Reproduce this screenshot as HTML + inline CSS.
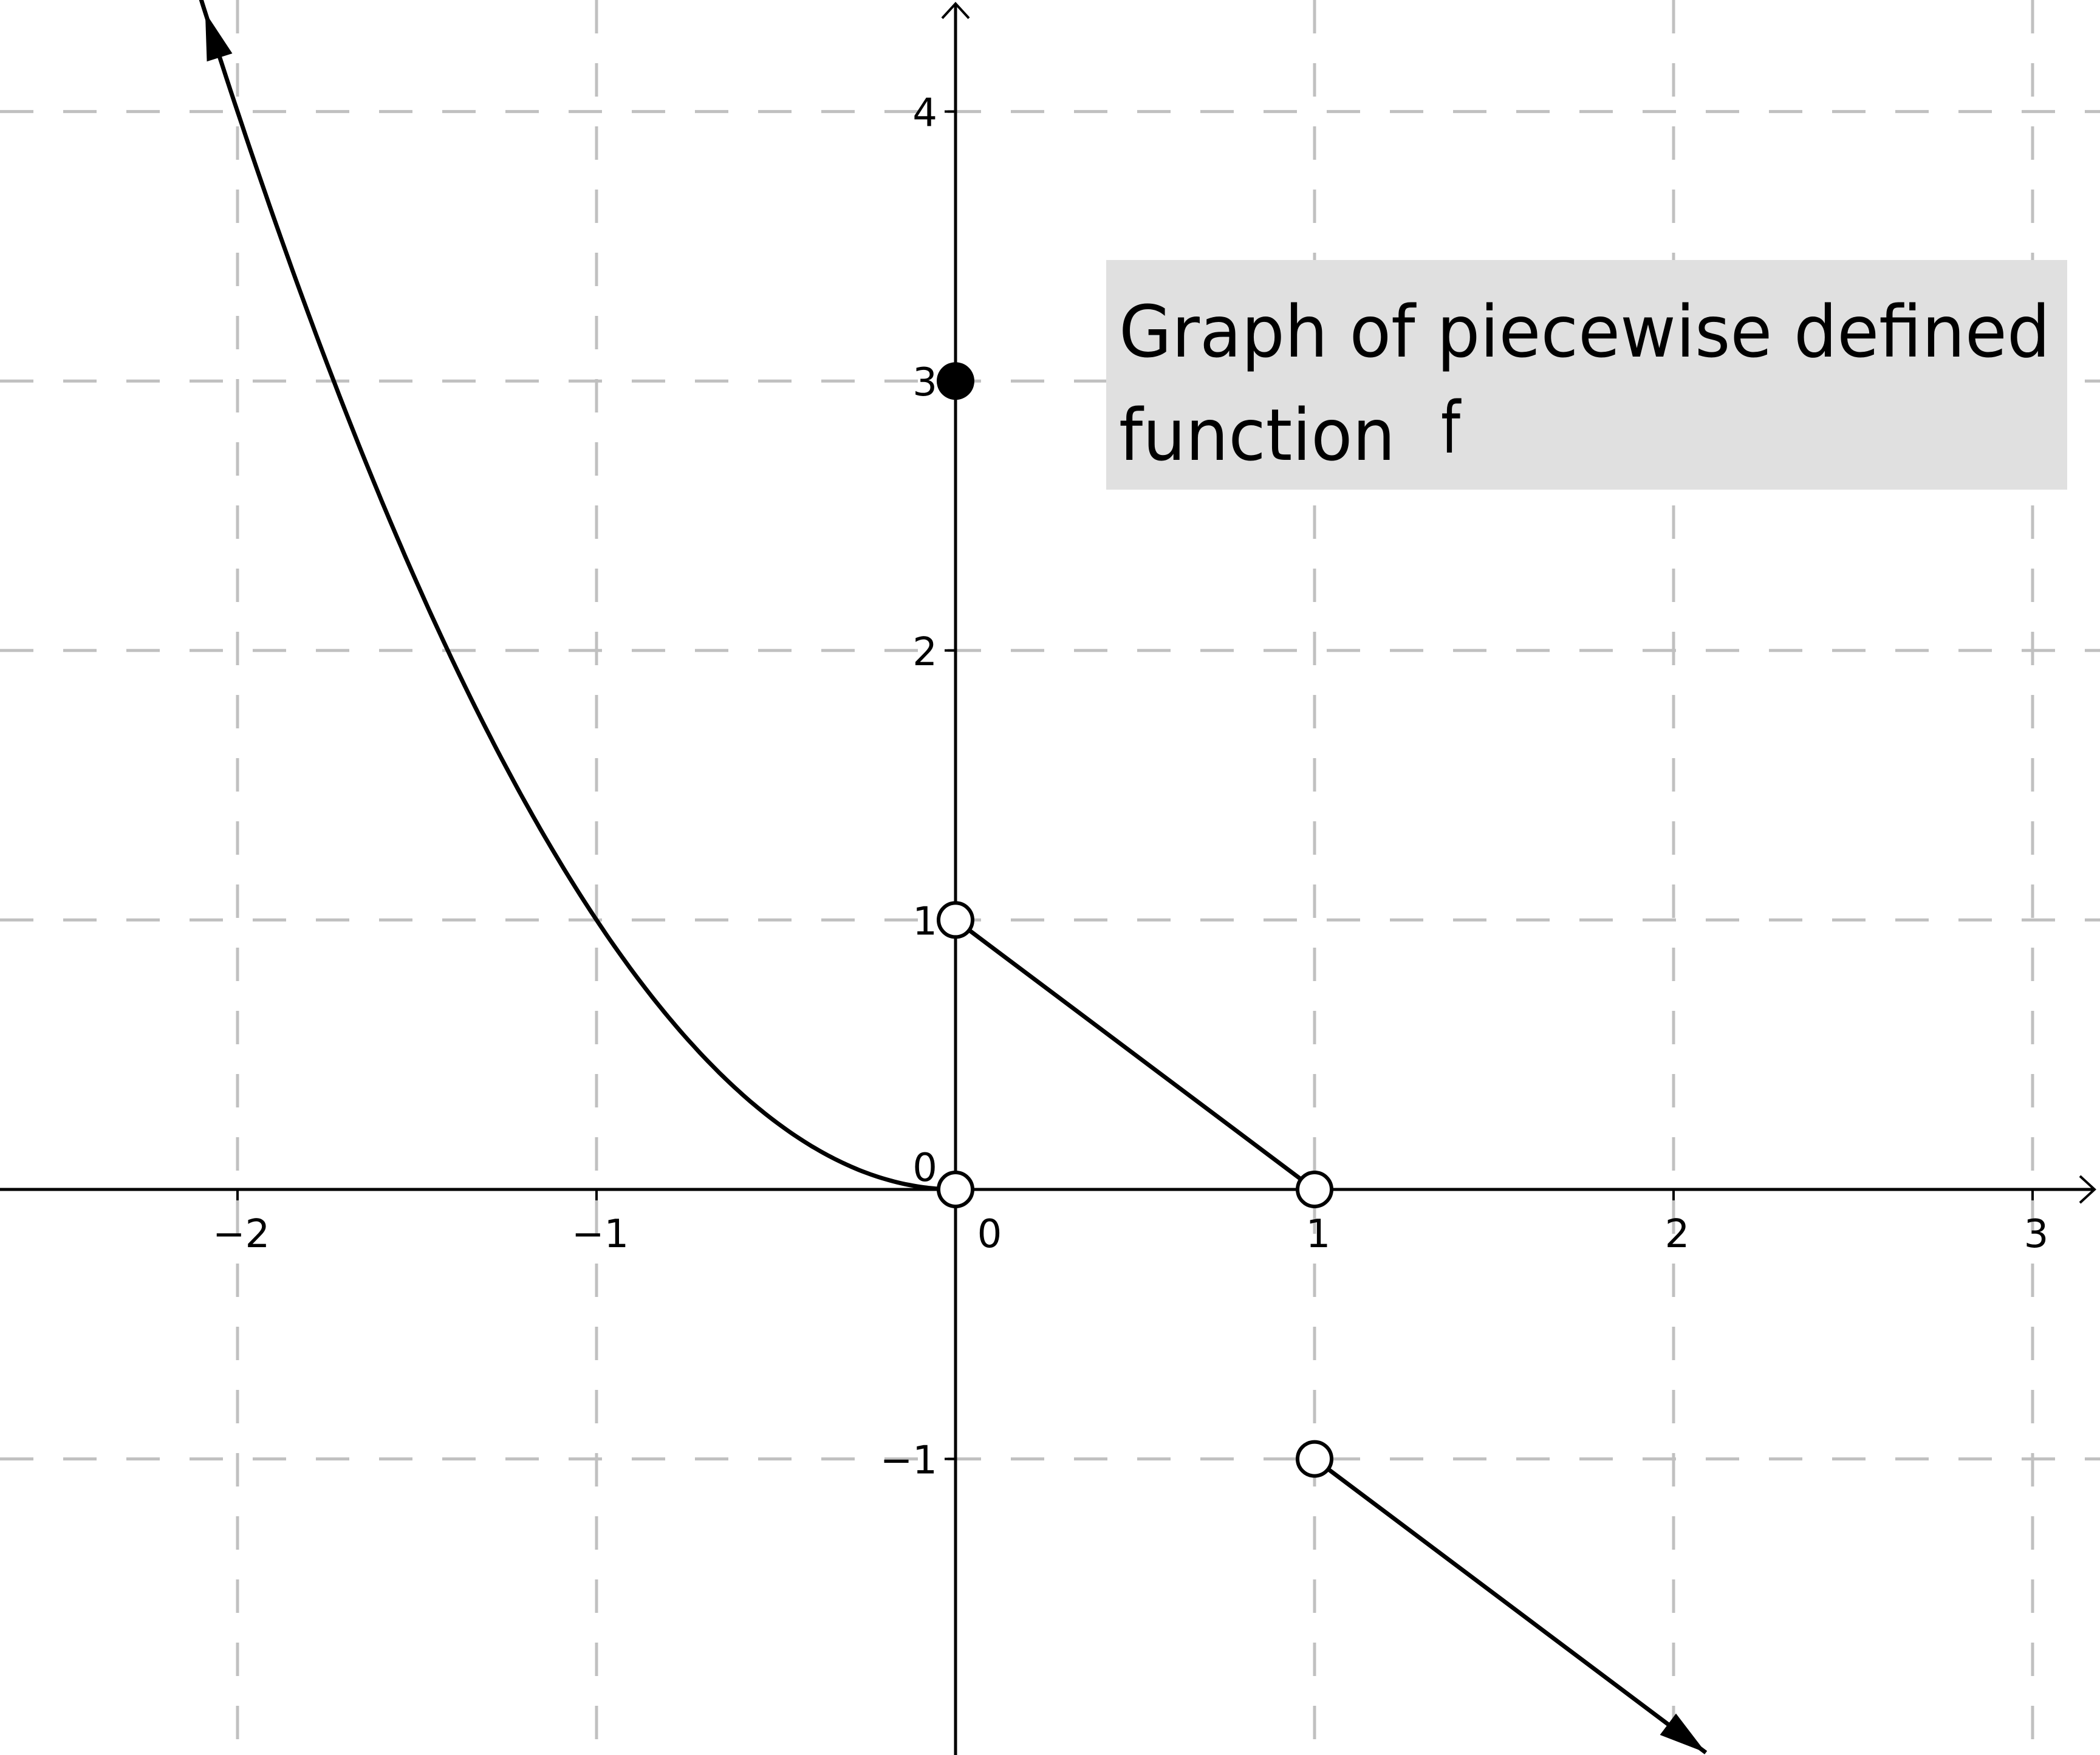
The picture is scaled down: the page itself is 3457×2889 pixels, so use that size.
<!DOCTYPE html>
<html><head><meta charset="utf-8"><style>
html,body{margin:0;padding:0;background:#fff}
svg{display:block}
</style></head><body>
<svg id="chart" width="3457" height="2889" viewBox="0 0 3457 2889" xmlns="http://www.w3.org/2000/svg" font-family="'DejaVu Sans','Liberation Sans',sans-serif">
<g id="grid"></g>
<g id="axes"></g>
<g id="series"></g>
<g id="points"></g>
<g>
<rect x="1821" y="428" width="1582" height="378" fill="#e0e0e0"/>
<text x="1842" y="587" font-size="118" textLength="1533" lengthAdjust="spacingAndGlyphs">Graph of piecewise defined</text>
<text x="1842" y="757" font-size="118" textLength="455" lengthAdjust="spacingAndGlyphs">function</text>
<text x="2372" y="745" font-size="118" textLength="32" lengthAdjust="spacingAndGlyphs">f</text>
</g>
</svg>
<script>
const xTicks = [-2, -1, 0, 1, 2, 3];
const yTicks = [-1, 0, 1, 2, 3, 4];
const xTickLabels = ["−2", "−1", "0", "1", "2", "3"];
const yTickLabels = ["−1", "0", "1", "2", "3", "4"];
const curveStart = -2.16;
const curveArrowX = -2.09;
const segA = [[0, 1], [1, 0]];
const segB = [[1, -1], [2.09, -2.09]];
const openPoints = [[0, 1], [0, 0], [1, 0], [1, -1]];
const filledPoints = [[0, 3]];

const NS = "http://www.w3.org/2000/svg";
const X0 = 1573, UX = 591, Y0 = 1958, UY = 443.6;
const sx = x => X0 + x * UX;
const sy = y => Y0 - y * UY;
function mk(tag, attrs, parent) {
  const e = document.createElementNS(NS, tag);
  for (const k in attrs) e.setAttribute(k, attrs[k]);
  parent.appendChild(e);
  return e;
}
const grid = document.getElementById('grid');
const axes = document.getElementById('axes');
const series = document.getElementById('series');
const pts = document.getElementById('points');
const dash = {stroke: '#c0c0c0', 'stroke-width': 5, 'stroke-dasharray': '55 49', fill: 'none'};

xTicks.forEach((t) => {
  if (t === 0) return;
  const l = mk('line', Object.assign({x1: sx(t), x2: sx(t), y1: 0, y2: 2889}, dash), grid);
  
  
});
yTicks.forEach((t) => {
  if (t === 0) return;
  const l = mk('line', Object.assign({x1: 0, x2: 3457, y1: sy(t), y2: sy(t)}, dash), grid);
  
  
});

let ax = mk('line', {x1: 0, x2: 3446, y1: Y0, y2: Y0, stroke: '#000', 'stroke-width': 5}, axes);


let ay = mk('line', {x1: X0, x2: X0, y1: 2889, y2: 8, stroke: '#000', 'stroke-width': 5}, axes);


let xa = mk('path', {d: `M3424 ${Y0-22} L3448 ${Y0} L3424 ${Y0+22}`, stroke: '#000', 'stroke-width': 4, fill: 'none'}, axes);


let ya = mk('path', {d: `M${X0-22} 30 L${X0} 6 L${X0+22} 30`, stroke: '#000', 'stroke-width': 4, fill: 'none'}, axes);



xTicks.forEach((t, i) => {
  if (t !== 0) {
    const tk = mk('line', {x1: sx(t), x2: sx(t), y1: Y0, y2: Y0 + 18, stroke: '#000', 'stroke-width': 4}, axes);
    
    
  }
  const tx = mk('text', {x: t === 0 ? sx(t) + 56 : sx(t) + 6, y: 2053, 'font-size': 64, 'text-anchor': 'middle'}, axes);
  tx.textContent = xTickLabels[i];
  
  
});
yTicks.forEach((t, i) => {
  if (t !== 0) {
    const tk = mk('line', {x1: X0 - 18, x2: X0, y1: sy(t), y2: sy(t), stroke: '#000', 'stroke-width': 4}, axes);
    
    
  }
  const tx = mk('text', {x: X0 - 30, y: t === 0 ? sy(t) - 14 : sy(t) + 24, 'font-size': 64, 'text-anchor': 'end'}, axes);
  tx.textContent = yTickLabels[i];
  
  
});

let d = '';
const N = 200;
for (let i = 0; i <= N; i++) {
  const x = curveStart + (0 - curveStart) * i / N;
  d += (i ? 'L' : 'M') + sx(x).toFixed(1) + ' ' + sy(x * x).toFixed(1);
}
const cv = mk('path', {d, stroke: '#000', 'stroke-width': 7, fill: 'none'}, series);



function arrowHead(tx, ty, dx, dy, name) {
  const len = Math.hypot(dx, dy); dx /= len; dy /= len;
  const L = 78, W = 22;
  const bx = tx - dx * L, by = ty - dy * L;
  const p = mk('polygon', {points: `${tx},${ty} ${bx - dy * W},${by + dx * W} ${bx + dy * W},${by - dx * W}`, fill: '#000'}, series);
  
  
}
{
  const x = curveArrowX;
  const px = sx(x), py = sy(x * x);
  const dx = -UX, dy = 2 * x * UY;
  arrowHead(px, py, dx, dy, 'parabola-arrow');
}
[[segA, 'segment-a', false], [segB, 'segment-b', true]].forEach(([s, name, arrow]) => {
  const l = mk('line', {x1: sx(s[0][0]), y1: sy(s[0][1]), x2: sx(s[1][0]), y2: sy(s[1][1]), stroke: '#000', 'stroke-width': 7}, series);
  
  
  if (arrow) arrowHead(sx(s[1][0]), sy(s[1][1]), sx(s[1][0]) - sx(s[0][0]), sy(s[1][1]) - sy(s[0][1]), name + '-arrow');
});

openPoints.forEach(p => {
  const c = mk('circle', {cx: sx(p[0]), cy: sy(p[1]), r: 28, fill: '#fff', stroke: '#000', 'stroke-width': 6}, pts);
  
  
});
filledPoints.forEach(p => {
  const c = mk('circle', {cx: sx(p[0]), cy: sy(p[1]), r: 31, fill: '#000'}, pts);
  
  
});
</script>
</body></html>
